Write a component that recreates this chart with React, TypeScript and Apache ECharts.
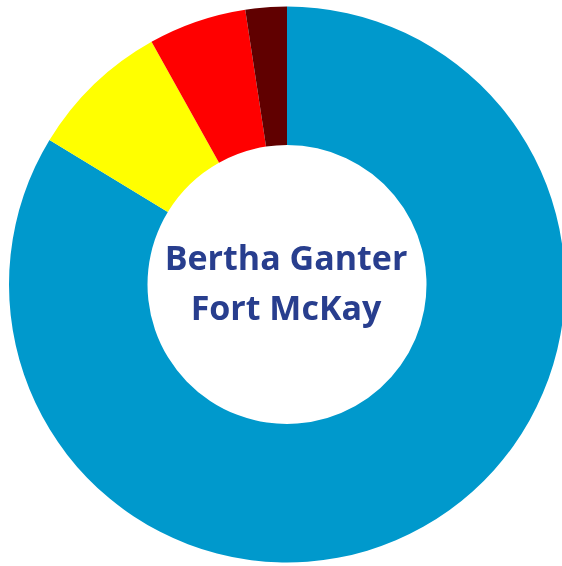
import React, { useEffect, useRef } from "react";
import * as echarts from "echarts";

const categories = ["Blue", "Yellow", "Red", "Dark red"];
const values = [83.7, 8.2, 5.7, 2.4];
const colors = ["#0099cc", "#ffff00", "#ff0000", "#600000"];
const centerText = "Bertha Ganter\nFort McKay";

export default function App() {
  const ref = useRef<HTMLDivElement>(null);
  useEffect(() => {
    if (!ref.current) return;
    const chart = echarts.init(ref.current, null, { renderer: "svg" });
    chart.setOption({
      animation: false,
      series: [
        {
          type: "pie",
          center: [287, 284.5],
          radius: [139.5, 278],
          startAngle: 90,
          clockwise: true,
          label: { show: false },
          labelLine: { show: false },
          emphasis: { disabled: true },
          itemStyle: { borderWidth: 0 },
          data: categories.map((c, i) => ({
            name: c,
            value: values[i],
            itemStyle: { color: colors[i] },
          })),
        },
      ],
      graphic: [
        {
          type: "text",
          x: 286,
          y: 282,
          style: {
            text: centerText,
            align: "center",
            verticalAlign: "middle",
            fontFamily: "Open Sans",
            fontWeight: "bold",
            fontSize: 34,
            lineHeight: 50,
            fill: "#283e8e",
          },
        },
      ],
    });
    return () => chart.dispose();
  }, []);
  return (
    <div
      ref={ref}
      style={{ position: "fixed", left: 0, top: 0, width: 562, height: 566 }}
    />
  );
}
